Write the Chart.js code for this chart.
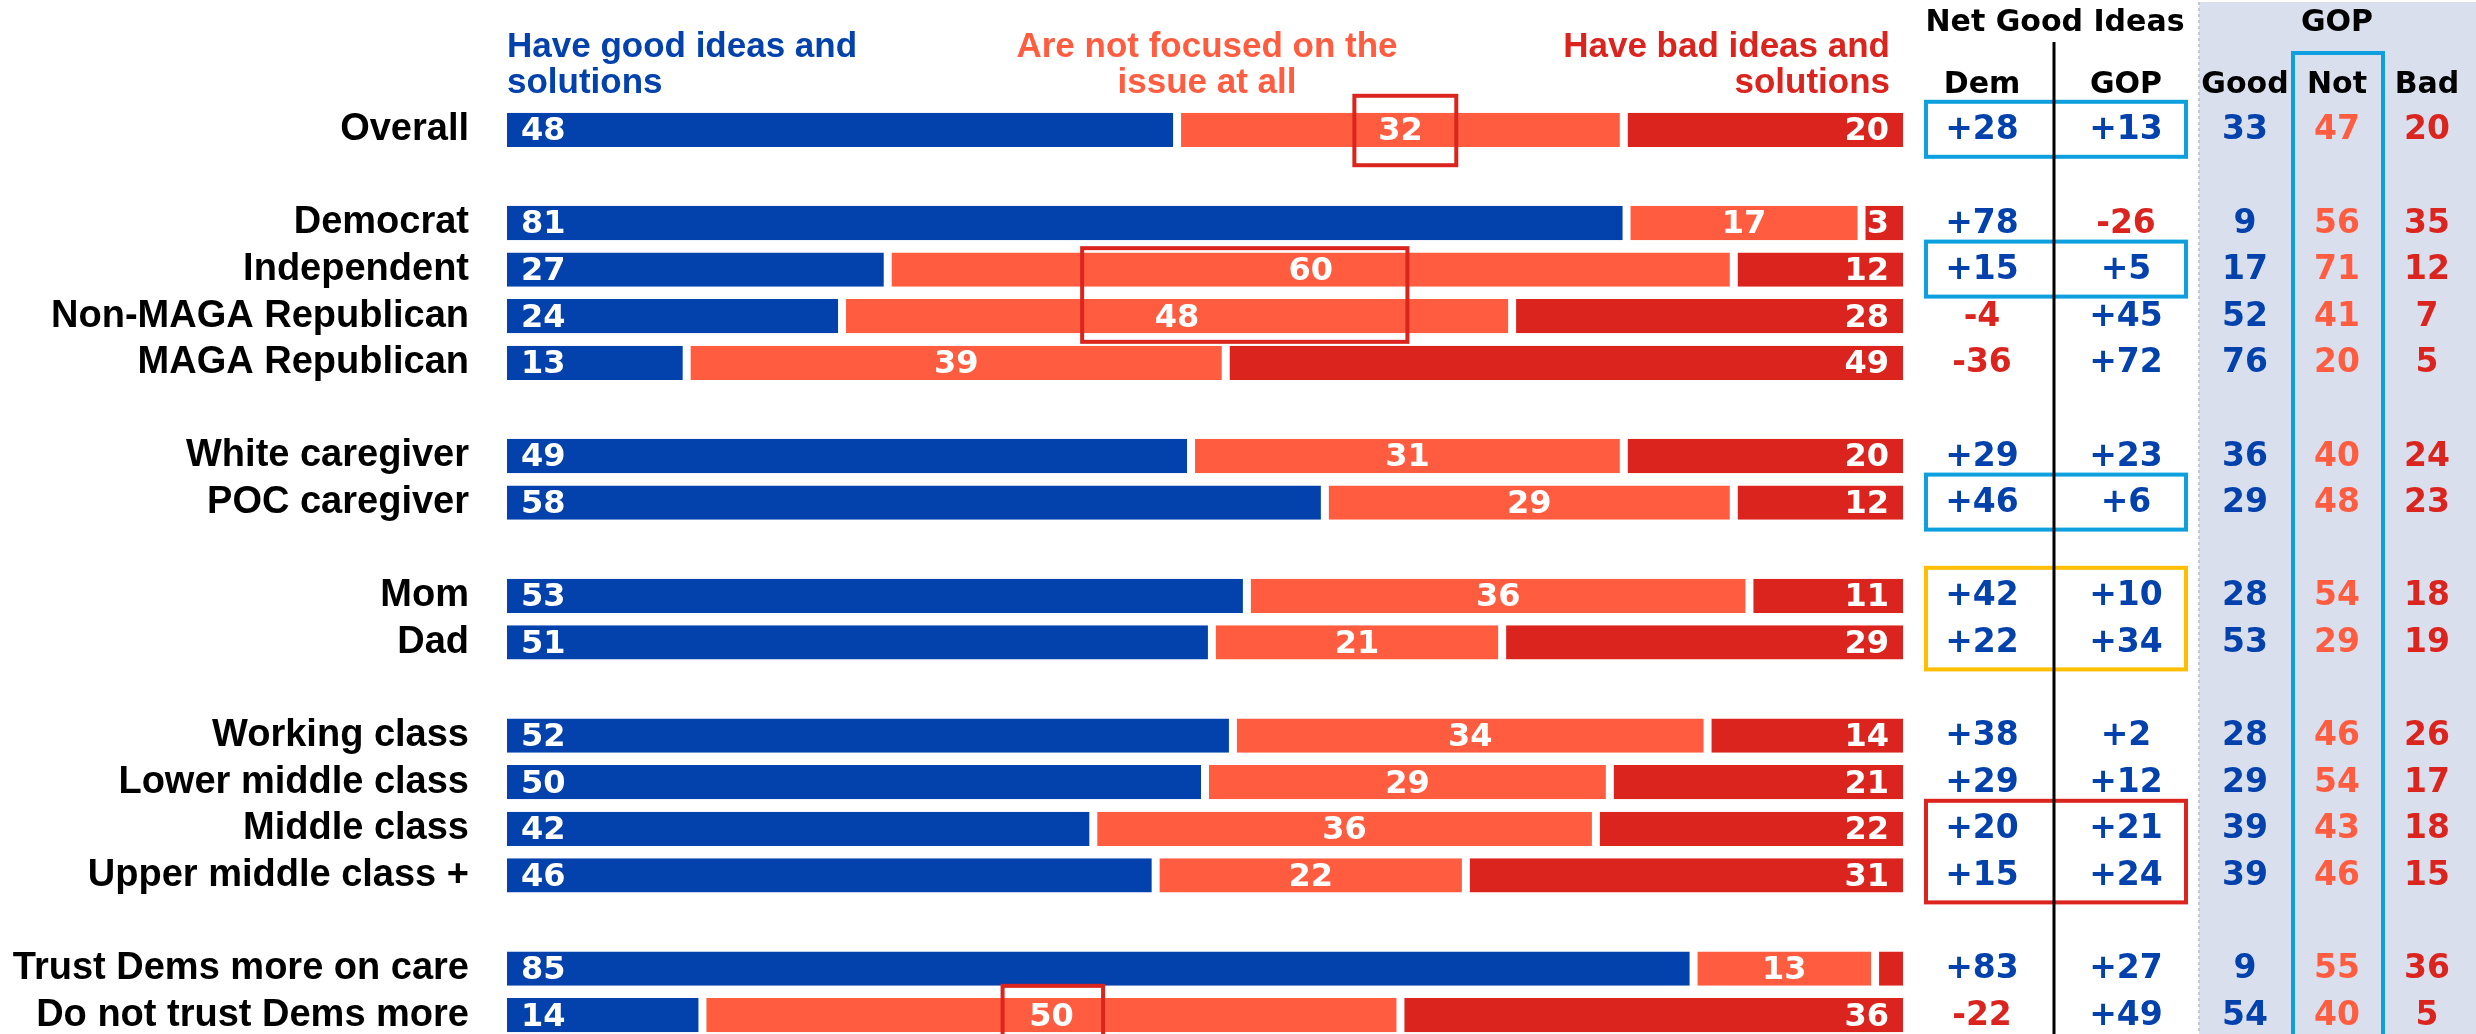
<!DOCTYPE html>
<html><head><meta charset="utf-8">
<script src="https://cdn.jsdelivr.net/npm/chart.js@4.4.1/dist/chart.umd.min.js"></script>
<style>html,body{margin:0;padding:0;background:#fff;overflow:hidden;}canvas{display:block;}</style>
</head><body>
<canvas id="c" width="2476" height="1040"></canvas>
<script>
// ---------- data ----------
const categories = ['Overall','', 'Democrat','Independent','Non-MAGA Republican','MAGA Republican','',
  'White caregiver','POC caregiver','', 'Mom','Dad','',
  'Working class','Lower middle class','Middle class','Upper middle class +','',
  'Trust Dems more on care','Do not trust Dems more'];
const goodIdeas  = [48,null,81,27,24,13,null,49,58,null,53,51,null,52,50,42,46,null,85,14];
const notFocused = [32,null,17,60,48,39,null,31,29,null,36,21,null,34,29,36,22,null,13,50];
const badIdeas   = [20,null,3,12,28,49,null,20,12,null,11,29,null,14,21,22,31,null,2,36];
const netDem     = [28,null,78,15,-4,-36,null,29,46,null,42,22,null,38,29,20,15,null,83,-22];
const netGop     = [13,null,-26,5,45,72,null,23,6,null,10,34,null,2,12,21,24,null,27,49];
const gopGood    = [33,null,9,17,52,76,null,36,29,null,28,53,null,28,29,39,39,null,9,54];
const gopNot     = [47,null,56,71,41,20,null,40,48,null,54,29,null,46,54,43,46,null,55,40];
const gopBad     = [20,null,35,12,7,5,null,24,23,null,18,19,null,26,17,18,15,null,36,5];
const seriesNames = ['Have good ideas and solutions','Are not focused on the issue at all','Have bad ideas and solutions'];
const seriesHeaderLines = [['Have good ideas and','solutions'],['Are not focused on the','issue at all'],['Have bad ideas and','solutions']];

// ---------- styles ----------
const BLUE='#0341AD', ORANGE='#FF5C40', RED='#DB241E', LBLUE='#0EA0DE', GOLD='#FFBF00', PANEL='#DADFEE';
const TEXT_FONT='"Liberation Sans", Arial, sans-serif';
const NUM_FONT='"DejaVu Sans", Verdana, sans-serif';

const rowSum = goodIdeas.map((g,i)=> g==null?null:g+notFocused[i]+badIdeas[i]);
const share = arr => arr.map((v,i)=> v==null?null:v/rowSum[i]*100);
const rawSeries = [goodIdeas, notFocused, badIdeas];

// annotation boxes (x in % units, y offsets in row units)
const focusBoxes = [
  {r0:0, r1:0, x0:60.7, x1:68.0, top:-0.73, bottom:0.76},
  {r0:3, r1:4, x0:41.2, x1:64.5, top:-0.46, bottom:0.55},
  {r0:19, r1:19, x0:35.5, x1:42.7, top:-0.63, bottom:0.8}
];
const tableBoxes = [
  {r0:0,r1:0,color:LBLUE},{r0:3,r1:3,color:LBLUE},{r0:8,r1:8,color:LBLUE},
  {r0:10,r1:11,color:GOLD},{r0:15,r1:16,color:RED}
];
const COL = {dem:1982, gop:2126, good:2245, not:2337, bad:2427};

const fmtSigned = v => (v>0?'+':'')+v;

const overlay = {
  id:'overlay',
  beforeDraw(chart){
    const ctx=chart.ctx, H=chart.height;
    ctx.save();
    ctx.fillStyle=PANEL; ctx.fillRect(2199,2,2476-2199,H);
    ctx.strokeStyle='#c4c8d4'; ctx.lineWidth=2; ctx.setLineDash([3,3]);
    ctx.beginPath(); ctx.moveTo(2199,2); ctx.lineTo(2199,H); ctx.stroke();
    ctx.setLineDash([]);
    // series headers
    ctx.font=`bold 35px ${TEXT_FONT}`; ctx.textBaseline='middle';
    const hx=[chart.chartArea.left, 1207, chart.chartArea.right-13];
    const al=['left','center','right'];
    const hc=[BLUE,ORANGE,RED];
    seriesHeaderLines.forEach((lines,k)=>{
      ctx.fillStyle=hc[k]; ctx.textAlign=al[k];
      lines.forEach((t,j)=>ctx.fillText(t,hx[k],47+36*j));
    });
    // table headers
    ctx.fillStyle='#000'; ctx.textAlign='center';
    ctx.font=`bold 30px ${NUM_FONT}`;
    ctx.fillText('Net Good Ideas',2055,23);
    ctx.fillText('GOP',COL.not,23);
    ctx.fillText('Dem',COL.dem,85);
    ctx.fillText('GOP',COL.gop,85);
    ctx.fillText('Good',COL.good,85);
    ctx.fillText('Not',COL.not,85);
    ctx.fillText('Bad',COL.bad,85);
    ctx.restore();
  },
  afterDatasetsDraw(chart){
    const ctx=chart.ctx, H=chart.height;
    const xs=chart.scales.x, ys=chart.scales.y;
    const step=ys.getPixelForValue(1)-ys.getPixelForValue(0);
    ctx.save();
    // bar value labels
    ctx.font=`bold 32px ${NUM_FONT}`; ctx.fillStyle='#fff'; ctx.textBaseline='middle';
    for(let d=0; d<3; d++){
      const meta=chart.getDatasetMeta(d);
      meta.data.forEach((el,i)=>{
        const v=rawSeries[d][i];
        if(v==null || v<3) return;
        let x;
        if(d===0){ctx.textAlign='left'; x=el.base+14;}
        else if(d===1){ctx.textAlign='center'; x=(el.base+el.x)/2;}
        else {ctx.textAlign='right'; x=el.x-14;}
        ctx.fillText(String(v),x,el.y+2);
      });
    }
    // focus boxes in bar area
    ctx.strokeStyle=RED; ctx.lineWidth=4;
    focusBoxes.forEach(b=>{
      const x0=xs.getPixelForValue(b.x0), x1=xs.getPixelForValue(b.x1);
      const y0=ys.getPixelForValue(b.r0)+b.top*step, y1=ys.getPixelForValue(b.r1)+b.bottom*step;
      ctx.strokeRect(x0,y0,x1-x0,y1-y0);
    });
    // table boxes
    tableBoxes.forEach(b=>{
      ctx.strokeStyle=b.color; ctx.lineWidth=4;
      const y0=ys.getPixelForValue(b.r0)-28, y1=ys.getPixelForValue(b.r1)+27;
      ctx.strokeRect(1926,y0,2186-1926,y1-y0);
    });
    ctx.strokeStyle=LBLUE; ctx.lineWidth=4;
    ctx.strokeRect(2293,53,2383-2293,H+20);
    // divider line
    ctx.strokeStyle='#000'; ctx.lineWidth=3;
    ctx.beginPath(); ctx.moveTo(2054,42); ctx.lineTo(2054,H); ctx.stroke();
    // table numbers
    ctx.font=`bold 33px ${NUM_FONT}`; ctx.textAlign='center'; ctx.textBaseline='middle';
    categories.forEach((c,i)=>{
      if(netDem[i]==null) return;
      const y=ys.getPixelForValue(i)+1;
      ctx.fillStyle=netDem[i]<0?RED:BLUE; ctx.fillText(fmtSigned(netDem[i]),COL.dem,y);
      ctx.fillStyle=netGop[i]<0?RED:BLUE; ctx.fillText(fmtSigned(netGop[i]),COL.gop,y);
      ctx.fillStyle=BLUE; ctx.fillText(String(gopGood[i]),COL.good,y);
      ctx.fillStyle=ORANGE; ctx.fillText(String(gopNot[i]),COL.not,y);
      ctx.fillStyle=RED; ctx.fillText(String(gopBad[i]),COL.bad,y);
    });
    ctx.restore();
  }
};

const bw = [{top:0,bottom:0,left:0,right:4},{top:0,bottom:0,left:4,right:4},{top:0,bottom:0,left:4,right:0}];
const colors=[BLUE,ORANGE,RED];
new Chart(document.getElementById('c'),{
  type:'bar',
  data:{
    labels:categories,
    datasets:rawSeries.map((arr,k)=>({
      label:seriesNames[k],
      data:share(arr),
      backgroundColor:colors[k],
      borderColor:'#ffffff',
      borderWidth:bw[k],
      borderSkipped:false,
      barPercentage:0.736,
      categoryPercentage:1
    }))
  },
  options:{
    indexAxis:'y',
    responsive:false,
    animation:false,
    devicePixelRatio:1,
    layout:{padding:{left:0,top:106.5,right:573,bottom:1.5}},
    plugins:{legend:{display:false},tooltip:{enabled:false},title:{display:false}},
    scales:{
      x:{stacked:true,min:0,max:100,display:false},
      y:{stacked:true,
        grid:{display:false,drawTicks:false},
        border:{display:false},
        ticks:{autoSkip:false,padding:38,color:'#000',font:{family:TEXT_FONT,weight:'bold',size:38}},
        afterFit(s){s.width=507; s.paddingTop=0; s.paddingBottom=0;}
      }
    }
  },
  plugins:[overlay]
});
</script>
</body></html>
